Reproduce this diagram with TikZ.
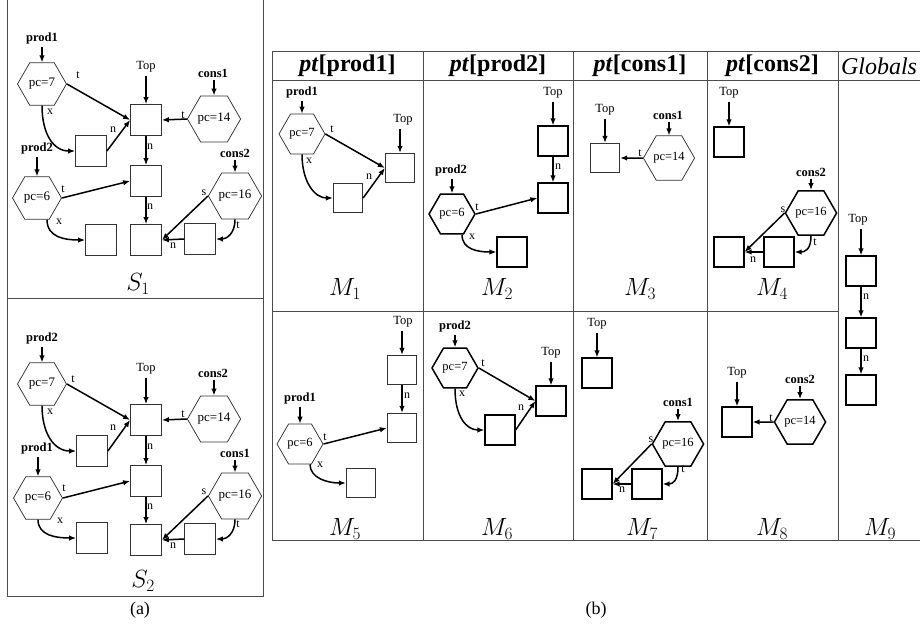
\documentclass[tikz,border=0pt]{standalone}
\usepackage{fontspec}
\setmainfont{Liberation Serif}
\usetikzlibrary{shapes.geometric,arrows.meta,calc}
\tikzset{
  bx/.style={draw=black!80, line width=0.75pt, minimum size=31pt, inner sep=0pt},
  mbx/.style={bx, minimum size=29.5pt},
  tbx/.style={mbx, draw=black, line width=1.7pt},
  hx/.style={regular polygon, regular polygon sides=6, draw=black!80, line width=0.75pt, minimum size=49pt, inner sep=0pt, font=\fontsize{13}{13}\selectfont},
  mhx/.style={hx, minimum size=46pt, font=\fontsize{12.5}{12.5}\selectfont},
  thx/.style={mhx, draw=black, line width=1.5pt},
  nm/.style={font=\fontsize{12.5}{12.5}\selectfont\bfseries, inner sep=1pt},
  tp/.style={font=\fontsize{12.5}{12.5}\selectfont, inner sep=1pt},
  lb/.style={font=\fontsize{12}{12}\selectfont, inner sep=0pt},
  ar/.style={-{Latex[length=7pt,width=5.5pt]}, line width=1.5pt},
  inar/.style={ar, shorten <=2pt},
  ml/.style={font=\fontsize{23}{23}\selectfont},
  hd/.style={font=\fontsize{24}{24}\selectfont},
  rulel/.style={draw=black!70, line width=0.8pt},
  capt/.style={font=\fontsize{18}{18}\selectfont}
}
\begin{document}
\begin{tikzpicture}[x=1pt,y=-1pt]
\path[fill=white,use as bounding box] (0,0) rectangle (920,627);
% ---------- panel (a) frame
\draw[rulel] (7,0) -- (7,596) -- (263,596) -- (263,0);
\draw[rulel] (7,298) -- (263,298);
% ---------- S1
\node[nm] (p1) at (42,38) {prod1};
\node[hx] (s1h7) at (42,84) {pc=7};
\node[tp] (s1top) at (146,67) {Top};
\node[bx] (s1A) at (146,120) {};
\node[nm] (c1) at (213,73) {cons1};
\node[hx] (s1h14) at (214,119) {pc=14};
\node[bx] (s1B) at (91,151) {};
\node[nm] (p2) at (37,148) {prod2};
\node[hx] (s1h6) at (37,198) {pc=6};
\node[bx] (s1C) at (146,181) {};
\node[bx] (s1D) at (101,240) {};
\node[bx] (s1E) at (146,240) {};
\node[nm] (c2) at (235,153) {cons2};
\node[hx] (s1h16) at (235,196) {pc=16};
\node[bx] (s1F) at (200,239) {};
\node[ml] (s1l) at (138,284) {$S_1$};
\draw[inar] (s1h7.north |- p1.south) -- (s1h7.north);
\draw[inar] (s1A.north |- s1top.south) -- (s1A.north);
\draw[inar] (s1h14.north |- c1.south) -- (s1h14.north);
\draw[ar] (s1h7.east) -- (s1A.west) node[lb,at={(78,75)}]{t};
\draw[ar] (s1h7.south) .. controls +(0,28) and +(-22,0) .. (s1B.west) node[lb,at={(50,112)}]{x};
\draw[ar] (s1B.east) -- (s1A.west) node[lb,at={(113,130)}]{n};
\draw[ar] (s1h14.west) -- (s1A.east) node[lb,at={(183,115)}]{t};
\draw[ar] (s1A.south) -- (s1C.north) node[lb,at={(150,147)}]{n};
\draw[inar] (s1h6.north |- p2.south) -- (s1h6.north);
\draw[ar] (s1h6.east) -- (s1C.west) node[lb,at={(63,189)}]{t};
\draw[ar] ([xshift=10pt]s1h6.south) .. controls +(0,18) and +(-20,0) .. (s1D.west) node[lb,at={(59,222)}]{x};
\draw[ar] (s1C.south) -- (s1E.north) node[lb,at={(150,207)}]{n};
\draw[inar] (s1h16.north |- c2.south) -- (s1h16.north);
\draw[ar] (s1h16.west) -- (s1E.east) node[lb,at={(204,193)}]{s};
\draw[ar] (s1h16.south) .. controls +(0,15) and +(10,0) .. (s1F.east) node[lb,at={(238,225)}]{t};
\draw[ar] (s1F.west) -- (s1E.east) node[lb,at={(173,246)}]{n};
% ---------- S2
\node[nm] (q2) at (42,338) {prod2};
\node[hx] (s2h7) at (42,384) {pc=7};
\node[tp] (s2top) at (146,369) {Top};
\node[bx] (s2A) at (146,420) {};
\node[nm] (d2) at (213,373) {cons2};
\node[hx] (s2h14) at (214,419) {pc=14};
\node[bx] (s2B) at (92,451) {};
\node[nm] (q1) at (37,448) {prod1};
\node[hx] (s2h6) at (38,498) {pc=6};
\node[bx] (s2C) at (146,481) {};
\node[bx] (s2D) at (92,538) {};
\node[bx] (s2E) at (146,540) {};
\node[nm] (d1) at (235,453) {cons1};
\node[hx] (s2h16) at (235,496) {pc=16};
\node[bx] (s2F) at (200,539) {};
\node[ml] (s2l) at (143,581) {$S_2$};
\draw[inar] (s2h7.north |- q2.south) -- (s2h7.north);
\draw[inar] (s2A.north |- s2top.south) -- (s2A.north);
\draw[inar] (s2h14.north |- d2.south) -- (s2h14.north);
\draw[ar] (s2h7.east) -- (s2A.west) node[lb,at={(73,379)}]{t};
\draw[ar] (s2h7.south) .. controls +(0,28) and +(-22,0) .. (s2B.west) node[lb,at={(50,412)}]{x};
\draw[ar] (s2B.east) -- (s2A.west) node[lb,at={(113,428)}]{n};
\draw[ar] (s2h14.west) -- (s2A.east) node[lb,at={(183,414)}]{t};
\draw[ar] (s2A.south) -- (s2C.north) node[lb,at={(150,447)}]{n};
\draw[inar] (s2h6.north |- q1.south) -- (s2h6.north);
\draw[ar] (s2h6.east) -- (s2C.west) node[lb,at={(64,488)}]{t};
\draw[ar] (s2h6.south) .. controls +(0,16) and +(-20,0) .. (s2D.west) node[lb,at={(60,521)}]{x};
\draw[ar] (s2C.south) -- (s2E.north) node[lb,at={(150,507)}]{n};
\draw[inar] (s2h16.north |- d1.south) -- (s2h16.north);
\draw[ar] (s2h16.west) -- (s2E.east) node[lb,at={(204,492)}]{s};
\draw[ar] (s2h16.south) .. controls +(0,15) and +(10,0) .. (s2F.east) node[lb,at={(238,524)}]{t};
\draw[ar] (s2F.west) -- (s2E.east) node[lb,at={(173,546)}]{n};
\node[capt] (capa) at (140,610) {(a)};
% ---------- table (b)
\draw[rulel] (272,51) -- (920,51);
\draw[rulel] (272,80) -- (920,80);
\draw[rulel] (272,540) -- (920,540);
\draw[rulel] (272,311) -- (838,311);
\foreach \x in {272,423,573,707,838} \draw[rulel] (\x,51) -- (\x,540);
\node[hd] (hd1) at (347.5,66) {\textbf{\textit{pt}[prod1]}};
\node[hd] (hd2) at (498,66) {\textbf{\textit{pt}[prod2]}};
\node[hd] (hd3) at (640,66) {\textbf{\textit{pt}[cons1]}};
\node[hd] (hd4) at (772.5,66) {\textbf{\textit{pt}[cons2]}};
\node[hd] (hd5) at (879,66) {\textit{Globals}};
% M1
\node[nm] (m1p) at (302,92) {prod1};
\node[mhx] (m1h) at (302,134) {pc=7};
\node[tp] (m1t) at (403,120) {Top};
\node[mbx] (m1A) at (400,168) {};
\node[mbx] (m1B) at (348,198) {};
\draw[inar] (m1h.north |- m1p.south) -- (m1h.north);
\draw[inar] (m1A.north |- m1t.south) -- (m1A.north);
\draw[ar] (m1h.east) -- (m1A.west) node[lb,at={(332,129)}]{t};
\draw[ar] (m1h.south) .. controls +(0,28) and +(-18,0) .. (m1B.west) node[lb,at={(309,161)}]{x};
\draw[ar] (m1B.east) -- (m1A.west) node[lb,at={(369,177)}]{n};
\node[ml] (ml1) at (345,289) {$M_1$};
% M2
\node[tp] (m2t) at (553,93) {Top};
\node[tbx] (m2G) at (553,141) {};
\node[tbx] (m2H) at (553,198) {};
\node[nm] (m2p) at (451,170) {prod2};
\node[thx] (m2h) at (452,214) {pc=6};
\node[tbx] (m2I) at (512,252) {};
\draw[inar] (m2G.north |- m2t.south) -- (m2G.north);
\draw[ar] (m2G.south) -- (m2H.north) node[lb,at={(558,167)}]{n};
\draw[inar] (m2h.north |- m2p.south) -- (m2h.north);
\draw[ar] (m2h.east) -- (m2H.west) node[lb,at={(477,207)}]{t};
\draw[ar] ([xshift=10pt]m2h.south) .. controls +(0,15) and +(-18,0) .. (m2I.west) node[lb,at={(472,237)}]{x};
\node[ml] (ml2) at (497,289) {$M_2$};
% M3
\node[tp] (m3t) at (605,110) {Top};
\node[mbx] (m3A) at (605,158) {};
\node[nm] (m3c) at (668,115) {cons1};
\node[mhx] (m3h) at (669,158) {pc=14};
\draw[inar] (m3A.north |- m3t.south) -- (m3A.north);
\draw[inar] (m3h.north |- m3c.south) -- (m3h.north);
\draw[ar] (m3h.west) -- (m3A.east) node[lb,at={(640,153)}]{t};
\node[ml] (ml3) at (640,289) {$M_3$};
% M4
\node[tp] (m4t) at (729,93) {Top};
\node[tbx] (m4J) at (729,142) {};
\node[nm] (m4c) at (811,172) {cons2};
\node[thx] (m4h) at (811,213) {pc=16};
\node[tbx] (m4K) at (729,252) {};
\node[tbx] (m4L) at (779,252) {};
\draw[inar] (m4J.north |- m4t.south) -- (m4J.north);
\draw[inar] (m4h.north |- m4c.south) -- (m4h.north);
\draw[ar] (m4h.west) -- (m4K.east) node[lb,at={(783,210)}]{s};
\draw[ar] (m4h.south) .. controls +(0,14) and +(10,0) .. (m4L.east) node[lb,at={(815,242)}]{t};
\draw[ar] (m4L.west) -- (m4K.east) node[lb,at={(753,260)}]{n};
\node[ml] (ml4) at (772,289) {$M_4$};
% M9
\node[tp] (m9t) at (858,220) {Top};
\node[tbx] (m9A) at (861,271) {};
\node[tbx] (m9B) at (861,333) {};
\node[tbx] (m9C) at (861,390) {};
\draw[inar] (m9A.north |- m9t.south) -- (m9A.north);
\draw[ar] (m9A.south) -- (m9B.north) node[lb,at={(866,297)}]{n};
\draw[ar] (m9B.south) -- (m9C.north) node[lb,at={(866,359)}]{n};
\node[ml] (ml9) at (880,529) {$M_9$};
% M5
\node[tp] (m5t) at (403,322) {Top};
\node[mbx] (m5A) at (402,370) {};
\node[mbx] (m5B) at (402,428) {};
\node[nm] (m5p) at (300,398) {prod1};
\node[mhx] (m5h) at (300,444) {pc=6};
\node[mbx] (m5C) at (361,483) {};
\draw[inar] (m5A.north |- m5t.south) -- (m5A.north);
\draw[ar] (m5A.south) -- (m5B.north) node[lb,at={(407,396)}]{n};
\draw[inar] (m5h.north |- m5p.south) -- (m5h.north);
\draw[ar] (m5h.east) -- (m5B.west) node[lb,at={(325,437)}]{t};
\draw[ar] ([xshift=10pt]m5h.south) .. controls +(0,14) and +(-18,0) .. (m5C.west) node[lb,at={(320,465)}]{x};
\node[ml] (ml5) at (345,529) {$M_5$};
% M6
\node[nm] (m6p) at (455,326) {prod2};
\node[thx] (m6h) at (455,368) {pc=7};
\node[tp] (m6t) at (551,353) {Top};
\node[tbx] (m6P) at (551,401) {};
\node[tbx] (m6Q) at (500,430) {};
\draw[inar] (m6h.north |- m6p.south) -- (m6h.north);
\draw[inar] (m6P.north |- m6t.south) -- (m6P.north);
\draw[ar] (m6h.east) -- (m6P.west) node[lb,at={(483,363)}]{t};
\draw[ar] (m6h.south) .. controls +(0,28) and +(-18,0) .. (m6Q.west) node[lb,at={(462,394)}]{x};
\draw[ar] (m6Q.east) -- (m6P.west) node[lb,at={(521,408)}]{n};
\node[ml] (ml6) at (497,529) {$M_6$};
% M7
\node[tp] (m7t) at (597,324) {Top};
\node[tbx] (m7R) at (597,373) {};
\node[nm] (m7c) at (678,402) {cons1};
\node[thx] (m7h) at (678,444) {pc=16};
\node[tbx] (m7S) at (597,484) {};
\node[tbx] (m7T) at (647,484) {};
\draw[inar] (m7R.north |- m7t.south) -- (m7R.north);
\draw[inar] (m7h.north |- m7c.south) -- (m7h.north);
\draw[ar] (m7h.west) -- (m7S.east) node[lb,at={(651,440)}]{s};
\draw[ar] (m7h.south) .. controls +(0,14) and +(10,0) .. (m7T.east) node[lb,at={(683,469)}]{t};
\draw[ar] (m7T.west) -- (m7S.east) node[lb,at={(622,490)}]{n};
\node[ml] (ml7) at (642,529) {$M_7$};
% M8
\node[tp] (m8t) at (737,373) {Top};
\node[tbx] (m8U) at (737,422) {};
\node[nm] (m8c) at (800,379) {cons2};
\node[thx] (m8h) at (800,422) {pc=14};
\draw[inar] (m8U.north |- m8t.south) -- (m8U.north);
\draw[inar] (m8h.north |- m8c.south) -- (m8h.north);
\draw[ar] (m8h.west) -- (m8U.east) node[lb,at={(771,418)}]{t};
\node[ml] (ml8) at (772,529) {$M_8$};
\node[capt] (capb) at (596,610) {(b)};
\end{tikzpicture}
\end{document}
